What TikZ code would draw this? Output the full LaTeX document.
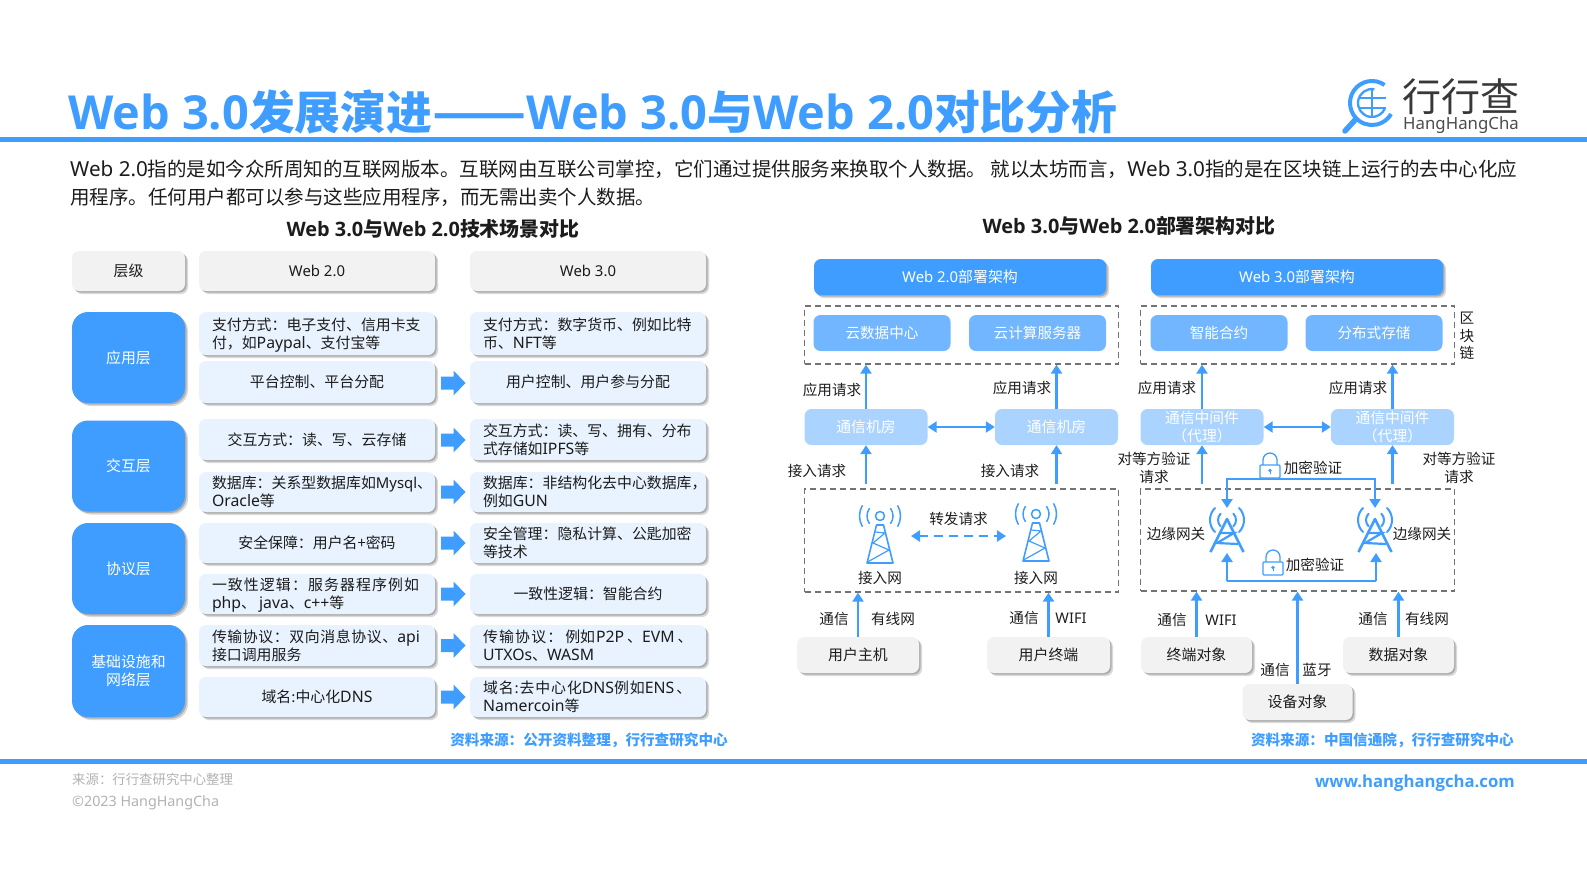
\documentclass[tikz,border=0pt]{standalone}
\usepackage{fontspec}
\usepackage{graphicx}
\setmainfont{Noto Sans CJK SC}
\newfontfamily\platf{Noto Sans}
\newfontfamily\latf{Noto Sans}[Scale=1.06]
\newfontfamily\latbf{Open Sans}
\newcommand\plat[1]{{\platf #1}}
\newcommand\lat[1]{\smash{\latf #1}}
\newcommand\blat[1]{{\latbf\bfseries #1}}
\newcommand\lsp[2]{{\addfontfeature{LetterSpace=#1}#2}}
\usetikzlibrary{arrows.meta,shadows,calc}
\definecolor{hb}{HTML}{3F9DFF}
\definecolor{mb}{HTML}{72B6FF}
\definecolor{lb}{HTML}{AAD4FF}
\definecolor{rowb}{HTML}{E8F3FF}
\definecolor{gr}{HTML}{F2F2F2}
\definecolor{ink}{HTML}{1C1C1C}
\tikzset{
  softsh/.style={drop shadow={shadow xshift=1.5pt,shadow yshift=-1.5pt,opacity=.30,fill=black!75},
                 drop shadow={shadow xshift=3pt,shadow yshift=-3pt,opacity=.25,fill=black!60}},
  boxbase/.style={rounded corners=7pt,inner sep=0pt,align=center,text=ink,font=\fontsize{14.9}{18}\selectfont},
  graybox/.style={boxbase,fill=gr,softsh},
  rowbox/.style={boxbase,fill=rowb,softsh},
  rowleft/.style={rowbox,align=left},
  layerbox/.style={boxbase,fill=hb,text=white,rounded corners=16pt,softsh,minimum width=113pt},
  headbox/.style={boxbase,fill=hb,text=white,softsh,minimum width=292pt,minimum height=36pt},
  midbox/.style={boxbase,fill=mb,text=white,minimum width=137pt,minimum height=36pt,font=\fontsize{14.6}{18}\selectfont},
  roombox/.style={boxbase,fill=lb,text=white,minimum width=123pt,minimum height=36pt,font=\fontsize{14.8}{18}\selectfont},
  frameb/.style={draw=black!55,dashed,dash pattern=on 6pt off 4pt,line width=1.3pt,minimum width=314pt,inner sep=0pt},
  conn/.style={draw=hb,line width=2.6pt,-{Triangle[width=11pt,length=9pt]}},
  connb/.style={draw=hb,line width=2.6pt,{Triangle[width=11pt,length=9pt]}-{Triangle[width=11pt,length=9pt]}},
  lab/.style={text=ink,font=\fontsize{14.6}{17.5}\selectfont,align=center,inner sep=0pt},
  pics/blockarrow/.style={code={
    \fill[hb] (-12.5,-6.5) -- (0,-6.5) -- (0,-12.5) -- (12,0) -- (0,12.5) -- (0,6.5) -- (-12.5,6.5) -- cycle;
  }},
  pics/accesstower/.style={code={
    \draw[hb,line width=1.5pt] (0,-14) circle (4.5pt);
    \draw[hb,line width=1.5pt,line cap=round] (0,-14) ++(145:13pt) arc (145:215:13pt) (0,-14) ++(35:13pt) arc (35:-35:13pt);
    \draw[hb,line width=1.5pt,line cap=round] (0,-14) ++(150:20.5pt) arc (150:210:20.5pt) (0,-14) ++(30:20.5pt) arc (30:-30:20.5pt);
    \draw[hb,line width=1.6pt,line join=round] (-3.5,-5) -- (3.5,-5) -- (13,33) -- (-13,33) -- cycle;
    \draw[hb,line width=1.2pt] (-4.5,2) -- (5,3) -- (-7,13) -- (9,20) -- (-12.5,32);
  }},
  pics/edgetower/.style={code={
    \draw[hb,line width=2pt,line cap=round] (0,-16) ++(135:9pt) arc (135:225:9pt) (0,-16) ++(45:9pt) arc (45:-45:9pt);
    \draw[hb,line width=2pt,line cap=round] (0,-16) ++(135:17pt) arc (135:225:17pt) (0,-16) ++(45:17pt) arc (45:-45:17pt);
    \draw[hb,line width=2.6pt,line join=round] (-16.5,16) -- (0,-17) -- (16.5,16);
    \draw[hb,line width=2.2pt] (-7,-3) -- (7,-3) -- (-10,7) -- (11,8);
  }},
  pics/padlock/.style={code={
    \fill[white] (-10,-11) rectangle (10,13);
    \draw[hb,line width=1.3pt] (-7,0) -- (-7,-5) arc (180:0:7pt) -- (7,0);
    \draw[hb,line width=1.3pt,rounded corners=1pt,fill=white] (-10,0) rectangle (10,13);
    \fill[hb] (0,5.5) circle (1.8pt);
    \draw[hb,line width=1pt] (0,5.5) -- (0,9);
  }},
}
\begin{document}
\begin{tikzpicture}[x=1pt,y=-1pt]
\useasboundingbox (0,0) rectangle (1587,892);
% ---- heading
\node[anchor=west,inner sep=0pt,text=hb,font=\bfseries\fontsize{45.8}{50}\selectfont] (title) at (68,112)
  {{\fontsize{46.9}{50}\selectfont\blat{Web 3.0}}发展演进\scalebox{1.2}[1]{——}{\fontsize{46.9}{50}\selectfont\blat{Web 3.0}}与{\fontsize{46.9}{50}\selectfont\blat{Web 2.0}}对比分析};
\node[inner sep=0pt,text=black!78,font=\fontsize{39}{41}\selectfont,anchor=west] (logocn) at (1402,97) {行行查};
\node[inner sep=0pt,text=black!70,font=\fontsize{16.8}{18}\selectfont,anchor=west] (logoen) at (1403,125.5) {\plat{HangHangCha}};
\draw[hb,line width=4pt] (1372,103) ++(55:22pt) arc (55:330:22pt);
\draw[hb,line width=2.3pt] (1372,103) ++(80:14pt) arc (80:340:14pt);
\draw[hb,line width=2.2pt] (1360,98) -- (1386,98) (1360,108) -- (1386,108) (1372,88) -- (1372,118);
\draw[hb,line width=5.5pt,line cap=round] (1355,120) -- (1345,131);
\fill[hb] (0,136.5) rectangle (1587,141.5);
\node[anchor=north west,inner sep=0pt,align=left,text=ink,font=\fontsize{19.5}{27.5}\selectfont] (intro) at (70,160)
  {{\latf Web 2.0}指的是如今众所周知的互联网版本。互联网由互联公司掌控，它们通过提供服务来换取个人数据。 就以太坊而言，{\latf Web 3.0}指的是在区块链上运行的去中心化应\\用程序。任何用户都可以参与这些应用程序，而无需出卖个人数据。};
\node[inner sep=0pt,text=ink,font=\bfseries\fontsize{19.9}{21}\selectfont] (subl) at (433,229) {\blat{Web 3.0}与\blat{Web 2.0}技术场景对比};
\node[inner sep=0pt,text=ink,font=\bfseries\fontsize{19.9}{21}\selectfont] (subr) at (1129,226) {\blat{Web 3.0}与\blat{Web 2.0}部署架构对比};
% ---- table
\node[graybox,minimum width=113pt,minimum height=40pt] (h1) at (128.5,271) {层级};
\node[graybox,minimum width=236pt,minimum height=40pt] (h2) at (317,271) {\plat{Web 2.0}};
\node[graybox,minimum width=236pt,minimum height=40pt] (h3) at (588,271) {\plat{Web 3.0}};
\node[layerbox,minimum height=91pt] (la) at (128.5,357.5) {应用层};
\node[layerbox,minimum height=91pt] (lb) at (128.5,466) {交互层};
\node[layerbox,minimum height=91pt] (lc) at (128.5,568.5) {协议层};
\node[layerbox,minimum height=92pt] (ld) at (128.5,671) {基础设施和\\网络层};
\tikzset{rw/.style={minimum width=236pt}}
\newcommand\lft[1]{\parbox{210pt}{\raggedright #1}}
\node[rowleft,rw,minimum height=43pt] (a2) at (317,333.5) {\lft{支付方式：电子支付、信用卡支\\付，如\lat{Paypal}、支付宝等}};
\node[rowbox,rw,minimum height=42pt] (b2) at (317,382) {平台控制、平台分配};
\node[rowbox,rw,minimum height=41pt] (c2) at (317,439.5) {交互方式：读、写、云存储};
\node[rowleft,rw,minimum height=40pt] (d2) at (317,492) {\lft{数据库：关系型数据库如\plat{Mysql}、\\\lat{Oracle}等}};
\node[rowbox,rw,minimum height=40pt] (e2) at (317,543) {安全保障：用户名+密码};
\node[rowleft,rw,minimum height=40pt] (f2) at (317,594) {\lft{\lsp{7.4}{一致性逻辑：服务器程序例如}\\\lat{php}、\hspace{3pt}\lat{java}、\lat{c++}等}};
\node[rowleft,rw,minimum height=41pt] (g2) at (317,645.5) {\lft{\lsp{4}{传输协议：双向消息协议、}\lat{api}\\接口调用服务}};
\node[rowbox,rw,minimum height=40pt] (i2) at (317,697) {域名:中心化\lat{DNS}};
\node[rowleft,rw,minimum height=43pt] (a3) at (588,333.5) {\lft{支付方式：数字货币、例如比特\\币、\lat{NFT}等}};
\node[rowbox,rw,minimum height=42pt] (b3) at (588,382) {用户控制、用户参与分配};
\node[rowleft,rw,minimum height=41pt] (c3) at (588,439.5) {\lft{交互方式：读、写、拥有、分布\\式存储如\lat{IPFS}等}};
\node[rowleft,rw,minimum height=40pt] (d3) at (588,492) {\lft{数据库：非结构化去中心数据库，\\例如\lat{GUN}}};
\node[rowleft,rw,minimum height=40pt] (e3) at (588,543) {\lft{安全管理：隐私计算、公匙加密\\等技术}};
\node[rowbox,rw,minimum height=40pt] (f3) at (588,594) {一致性逻辑：智能合约};
\node[rowleft,rw,minimum height=41pt] (g3) at (588,645.5) {\lft{\lsp{8}{传输协议：}\hspace{3pt}例如\hspace{1pt}\lat{P2P}\hspace{3pt}、\lat{EVM}\hspace{3pt}、\\\lat{UTXOs}、\lat{WASM}}};
\node[rowleft,rw,minimum height=40pt] (i3) at (588,697) {\lft{\lsp{6}{域名:去中心化}\lat{DNS}\lsp{6}{例如}\lat{ENS}\hspace{2pt}、\\\lat{Namercoin}等}};
\foreach \y in {383,440,492,543,594,645.5,697}
  \pic at (453.5,\y) {blockarrow};
\node[inner sep=0pt,text=hb,font=\bfseries\fontsize{14.6}{16}\selectfont] (srcl) at (589,740) {资料来源：公开资料整理，行行查研究中心};
% ---- Web 2.0 architecture
\node[headbox] (w2) at (960,277) {\plat{Web 2.0}部署架构};
\node[headbox] (w3) at (1297,277) {\plat{Web 3.0}部署架构};
\node[frameb,minimum height=58pt] (f1) at (961.5,335) {};
\node[midbox] (cl1) at (882,333) {云数据中心};
\node[midbox] (cl2) at (1037.5,333) {云计算服务器};
\node[roombox] (r1) at (866,427) {通信机房};
\node[roombox] (r2) at (1056.5,427) {通信机房};
\node[frameb,minimum height=103pt] (f2) at (961.5,540.5) {};
\draw[conn] (r1.north) -- (r1.north |- f1.south);
\draw[conn] (r2.north) -- (r2.north |- f1.south);
\draw[connb] (r1.east) -- (r2.west);
\draw[conn] (r1.south |- f2.north) ++(0,-4) -- (r1.south);
\draw[conn] (r2.south |- f2.north) ++(0,-4) -- (r2.south);
\node[lab] (q1) at (832,390) {应用请求};
\node[lab] (q2) at (1022,388) {应用请求};
\node[lab] (q3) at (817,471) {接入请求};
\node[lab] (q4) at (1010,471) {接入请求};
\pic at (880,530) {accesstower};
\pic at (1036,528) {accesstower};
\node[lab] (n1) at (880,578) {接入网};
\node[lab] (n2) at (1036,578) {接入网};
\node[lab] (n3) at (958.5,519) {转发请求};
\coordinate (dl) at (911,536); \coordinate (dr) at (1006,536);
\draw[hb,line width=2.6pt,dash pattern=on 9pt off 6pt,{Triangle[width=11pt,length=9pt]}-{Triangle[width=11pt,length=9pt]}] (dl) -- (dr);
\node[graybox,minimum width=122pt,minimum height=36pt] (u1) at (858,655) {用户主机};
\node[graybox,minimum width=123pt,minimum height=36pt] (u2) at (1048.5,655) {用户终端};
\draw[conn] (u1.north) -- (u1.north |- f2.south);
\draw[conn] (u2.north) -- (u2.north |- f2.south);
\node[lab] (t1) at (834,619) {通信};
\node[lab] (t2) at (893,619) {有线网};
\node[lab] (t3) at (1024,618) {通信};
\node[lab] (t4) at (1071,618) {\plat{WIFI}};
% ---- Web 3.0 architecture
\node[frameb,minimum height=58pt] (f3) at (1297.5,335) {};
\node[midbox] (sm) at (1219,333) {智能合约};
\node[midbox] (ds) at (1374,333) {分布式存储};
\node[lab] (chain) at (1467,336) {区\\块\\链};
\node[roombox] (p1) at (1202,427) {通信中间件\\（代理）};
\node[roombox] (p2) at (1392.5,427) {通信中间件\\（代理）};
\node[frameb,minimum height=102pt] (f4) at (1297.5,540) {};
\draw[conn] (p1.north) -- (p1.north |- f3.south);
\draw[conn] (p2.north) -- (p2.north |- f3.south);
\draw[connb] (p1.east) -- (p2.west);
\draw[conn] (p1.south |- f4.north) ++(0,-4) -- (p1.south);
\draw[conn] (p2.south |- f4.north) ++(0,-4) -- (p2.south);
\node[lab] (q5) at (1167,388) {应用请求};
\node[lab] (q6) at (1358,388) {应用请求};
\node[lab] (q7) at (1154,468) {对等方验证\\请求};
\node[lab] (q8) at (1459,468) {对等方验证\\请求};
\pic at (1227,536) {edgetower};
\pic at (1375,536) {edgetower};
\coordinate (e1t) at (1227,508); \coordinate (e2t) at (1375,508);
\coordinate (e1b) at (1227,553); \coordinate (e2b) at (1376,553);
\draw[conn] (e1t) ++(0,-3) -- ++(0,-26) -| (e2t);
\draw[conn] (e1t) ++(0,-29) -- (e1t);
\draw[conn] (e1b) ++(0,28) -- (e1b);
\draw[conn] (e2b) ++(0,28) -- (e2b);
\draw[draw=hb,line width=2.6pt] (e1b) ++(0,28) -- ++(149,0);
\pic at (1270,465) {padlock};
\pic at (1273,562) {padlock};
\node[lab] (v1) at (1313,468) {加密验证};
\node[lab] (v2) at (1315,565) {加密验证};
\node[lab] (g1) at (1176,534) {边缘网关};
\node[lab] (g2) at (1422,534) {边缘网关};
\node[graybox,minimum width=111pt,minimum height=36pt] (o1) at (1196.5,655) {终端对象};
\node[graybox,minimum width=111pt,minimum height=36pt] (o2) at (1398.5,655) {数据对象};
\node[graybox,minimum width=110pt,minimum height=36pt] (o3) at (1297.5,702) {设备对象};
\draw[conn] (o1.north) -- (o1.north |- f4.south);
\draw[conn] (o2.north) -- (o2.north |- f4.south);
\draw[conn] (o3.north) -- (o3.north |- f4.south);
\node[lab] (t5) at (1172,620) {通信};
\node[lab] (t6) at (1221,620) {\plat{WIFI}};
\node[lab] (t7) at (1275,670) {通信};
\node[lab] (t8) at (1317,670) {蓝牙};
\node[lab] (t9) at (1373,619) {通信};
\node[lab] (t10) at (1427,619) {有线网};
\node[inner sep=0pt,text=hb,font=\bfseries\fontsize{14.6}{16}\selectfont,anchor=east] (srcr) at (1514,740) {资料来源：中国信通院，行行查研究中心};
% ---- footer
\fill[hb] (0,758.5) rectangle (1587,763.5);
\node[anchor=west,inner sep=0pt,text=black!30,font=\fontsize{13.4}{15}\selectfont] (ft1) at (72,779) {来源：行行查研究中心整理};
\node[anchor=west,inner sep=0pt,text=black!30,font=\fontsize{13.5}{15}\selectfont] (ft2) at (72,803) {{\latf ©2023 HangHangCha}};
\node[anchor=east,inner sep=0pt,text=hb,font=\bfseries\fontsize{16.7}{18}\selectfont] (url) at (1515,783) {\blat{www.hanghangcha.com}};
\end{tikzpicture}
\end{document}
